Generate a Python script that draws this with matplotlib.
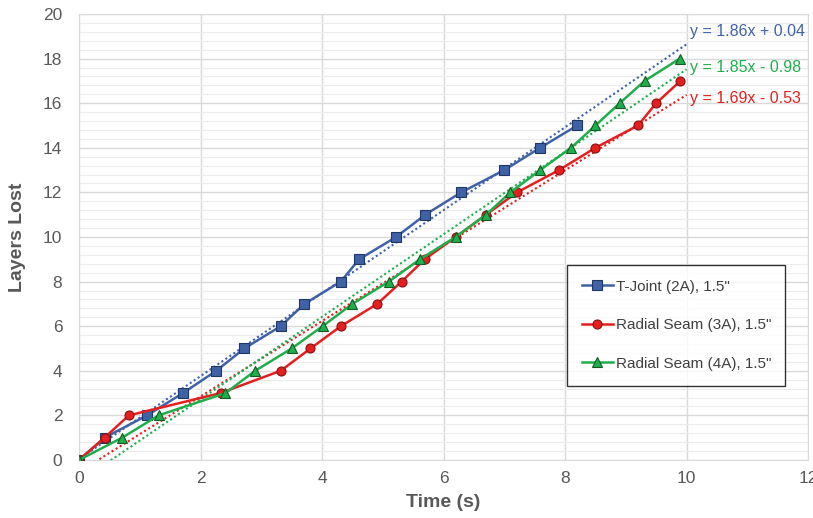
import numpy as np
import matplotlib
matplotlib.use("Agg")
import matplotlib.pyplot as plt
from matplotlib.ticker import MultipleLocator

# T-Joint (2A)
t_blue = [0, 0.42, 1.12, 1.71, 2.26, 2.72, 3.32, 3.71, 4.31, 4.61, 5.22, 5.70, 6.29, 7.0, 7.59, 8.2]
v_blue = list(range(16))
# Radial Seam (3A)
t_red = [0, 0.42, 0.82, 2.33, 3.32, 3.81, 4.31, 4.91, 5.31, 5.69, 6.2, 6.7, 7.21, 7.9, 8.5, 9.2, 9.5, 9.9]
v_red = list(range(18))
# Radial Seam (4A)
t_green = [0, 0.71, 1.31, 2.41, 2.9, 3.5, 4.01, 4.5, 5.1, 5.61, 6.2, 6.7, 7.1, 7.59, 8.1, 8.5, 8.9, 9.31, 9.89]
v_green = list(range(19))

labels = ['T-Joint (2A), 1.5"', 'Radial Seam (3A), 1.5"', 'Radial Seam (4A), 1.5"']
slopes = [1.86, 1.69, 1.85]
intercepts = [0.04, -0.53, -0.98]
eq_text = ["y = 1.86x + 0.04", "y = 1.69x - 0.53", "y = 1.85x - 0.98"]
eq_y = [19.2, 16.2, 17.6]


def main():
    plt.rcParams['font.family'] = ['Liberation Sans', 'DejaVu Sans']
    colors = ["#3f62a6", "#e41f1f", "#1fae4b"]
    edges = ["#1f3766", "#8a1010", "#145a22"]
    markers = ["s", "o", "^"]
    series = [(t_blue, v_blue), (t_red, v_red), (t_green, v_green)]

    fig = plt.figure(figsize=(8.13, 5.18), dpi=100)
    ax = fig.add_axes([0.0972, 0.112, 0.8967, 0.861])

    tt = np.array([0, 10])
    for i, (t, v) in enumerate(series):
        ax.plot(t, v, color=colors[i], lw=1.8, marker=markers[i], ms=6.5,
                mfc=colors[i], mec=edges[i], mew=0.8, label=labels[i], zorder=3)
        ax.plot(tt, slopes[i] * tt + intercepts[i], color=colors[i], lw=1.5,
                ls=(0, (1, 1.3)), zorder=2)
        ax.text(10.05, eq_y[i], eq_text[i], color=colors[i], fontsize=11.5,
                ha="left", va="center")

    ax.set_xlim(0, 12)
    ax.set_ylim(0, 20)
    ax.xaxis.set_major_locator(MultipleLocator(2))
    ax.yaxis.set_major_locator(MultipleLocator(2))
    ax.yaxis.set_minor_locator(MultipleLocator(0.4))
    ax.grid(which="major", color="#d9d9d9", lw=1.0)
    ax.grid(which="minor", axis="y", color="#ececec", lw=0.8)
    ax.set_axisbelow(True)
    ax.tick_params(which="both", length=0, labelsize=12.5, labelcolor="#595959")
    ax.tick_params(axis="y", pad=12)
    ax.tick_params(axis="x", pad=8)
    for s in ax.spines.values():
        s.set_color("#d9d9d9")

    ax.set_xlabel("Time (s)", fontsize=14, fontweight="bold", color="#595959", labelpad=6)
    ax.set_ylabel("Layers Lost", fontsize=14, fontweight="bold", color="#595959", labelpad=12)

    leg = ax.legend(loc="lower left", bbox_to_anchor=(0.669, 0.166, 0.299, 0.298),
                    mode="expand", fontsize=11, frameon=True, fancybox=False,
                    edgecolor="black", handlelength=2.0, handletextpad=0.2,
                    labelspacing=1.6, borderpad=1.0, borderaxespad=0)
    leg.get_frame().set_linewidth(1.0)
    for txt in leg.get_texts():
        txt.set_color("#404040")

    fig.savefig("out.png", dpi=100)


if __name__ == "__main__":
    main()
